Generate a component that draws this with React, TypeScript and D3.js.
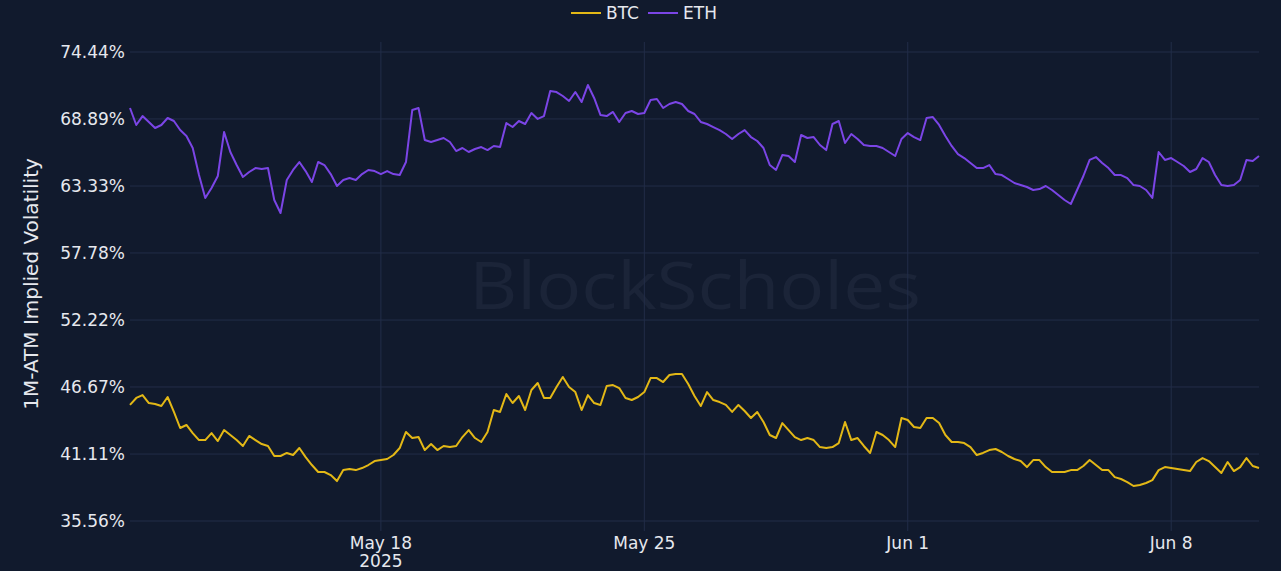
import React from "react";
import * as d3 from "d3";

const START = new Date(2025, 4, 11, 8, 0);
const STEP_HOURS = 4;

const ethValues = [
  69.80, 68.39, 69.13, 68.64, 68.14, 68.39, 68.97, 68.72, 67.97, 67.48,
  66.48, 64.24, 62.34, 63.16, 64.16, 67.81, 66.15, 65.07, 64.08, 64.49,
  64.82, 64.74, 64.82, 62.17, 61.09, 63.83, 64.66, 65.32, 64.57, 63.66,
  65.32, 65.07, 64.32, 63.33, 63.83, 63.99, 63.83, 64.32, 64.66, 64.57,
  64.32, 64.57, 64.32, 64.24, 65.32, 69.63, 69.80, 67.14, 66.98, 67.14,
  67.31, 66.98, 66.23, 66.48, 66.15, 66.40, 66.56, 66.31, 66.65, 66.56,
  68.55, 68.22, 68.72, 68.47, 69.38, 68.89, 69.13, 71.21, 71.12, 70.79,
  70.38, 71.12, 70.29, 71.70, 70.63, 69.22, 69.13, 69.47, 68.64, 69.38,
  69.55, 69.30, 69.38, 70.46, 70.54, 69.80, 70.13, 70.29, 70.13, 69.55,
  69.30, 68.64, 68.47, 68.22, 67.97, 67.64, 67.23, 67.64, 67.97, 67.39,
  67.06, 66.48, 65.07, 64.66, 65.90, 65.82, 65.32, 67.56, 67.31, 67.39,
  66.73, 66.31, 68.47, 68.72, 66.90, 67.64, 67.23, 66.73, 66.65, 66.65,
  66.48, 66.15, 65.82, 67.23, 67.72, 67.39, 67.14, 68.97, 69.05, 68.39,
  67.48, 66.65, 65.98, 65.65, 65.24, 64.82, 64.82, 65.07, 64.32, 64.24,
  63.91, 63.58, 63.41, 63.25, 63.00, 63.08, 63.33, 63.00, 62.58, 62.17,
  61.84, 63.00, 64.16, 65.49, 65.73, 65.24, 64.82, 64.24, 64.24, 63.99,
  63.41, 63.33, 63.00, 62.34, 66.15, 65.49, 65.65, 65.32, 64.99, 64.49,
  64.74, 65.65, 65.32, 64.24, 63.41, 63.33, 63.41, 63.83, 65.49, 65.40,
  65.82,
];

const btcValues = [
  45.18, 45.76, 46.00, 45.34, 45.26, 45.09, 45.84, 44.60, 43.27, 43.52,
  42.85, 42.27, 42.27, 42.85, 42.19, 43.10, 42.69, 42.27, 41.78, 42.61,
  42.27, 41.94, 41.78, 40.95, 40.95, 41.20, 41.03, 41.61, 40.86, 40.20,
  39.62, 39.62, 39.37, 38.87, 39.78, 39.87, 39.78, 39.95, 40.20, 40.53,
  40.61, 40.70, 41.03, 41.61, 42.94, 42.44, 42.52, 41.44, 41.94, 41.44,
  41.78, 41.69, 41.78, 42.52, 43.10, 42.44, 42.11, 42.94, 44.76, 44.60,
  46.09, 45.34, 45.92, 44.76, 46.42, 47.00, 45.76, 45.76, 46.67, 47.50,
  46.67, 46.25, 44.76, 46.00, 45.34, 45.18, 46.75, 46.83, 46.58, 45.76,
  45.59, 45.84, 46.25, 47.41, 47.41, 47.08, 47.66, 47.75, 47.75, 46.92,
  45.92, 45.09, 46.25, 45.59, 45.42, 45.18, 44.60, 45.18, 44.68, 44.10,
  44.60, 43.77, 42.69, 42.44, 43.68, 43.10, 42.52, 42.27, 42.44, 42.27,
  41.69, 41.61, 41.69, 42.02, 43.77, 42.27, 42.44, 41.78, 41.20, 42.94,
  42.69, 42.27, 41.69, 44.10, 43.93, 43.35, 43.27, 44.10, 44.10, 43.68,
  42.69, 42.11, 42.11, 42.02, 41.69, 41.03, 41.20, 41.44, 41.53, 41.28,
  40.95, 40.70, 40.53, 40.03, 40.61, 40.61, 40.03, 39.62, 39.62, 39.62,
  39.78, 39.78, 40.12, 40.61, 40.20, 39.78, 39.78, 39.20, 39.04, 38.79,
  38.46, 38.54, 38.71, 38.95, 39.78, 40.03, 39.95, 39.87, 39.78, 39.70,
  40.45, 40.78, 40.53, 40.03, 39.54, 40.45, 39.70, 40.03, 40.78, 40.12,
  39.95,
];

const yTicks = [35.56, 41.11, 46.67, 52.22, 57.78, 63.33, 68.89, 74.44];
const xTickDates = [
  new Date(2025, 4, 18),
  new Date(2025, 4, 25),
  new Date(2025, 5, 1),
  new Date(2025, 5, 8),
];
const xTickLabels = ["May 18", "May 25", "Jun 1", "Jun 8"];
const seriesNames = ["BTC", "ETH"];
const seriesColors = ["#e3b816", "#7b45e6"];

const W = 1281;
const H = 571;
const M = { left: 130, right: 1259, top: 52, bottom: 521 };
const FONT = "'DejaVu Sans', Verdana, sans-serif";

function toPoints(values: number[]) {
  return values.map((v, i) => ({
    t: new Date(START.getTime() + i * STEP_HOURS * 3600 * 1000),
    v,
  }));
}

export default function App() {
  const endTime = new Date(START.getTime() + (ethValues.length - 1) * STEP_HOURS * 3600 * 1000);
  const x = d3.scaleTime().domain([START, endTime]).range([M.left, M.right]);
  const y = d3.scaleLinear().domain([35.56, 74.44]).range([M.bottom, M.top]);
  const line = d3
    .line<{ t: Date; v: number }>()
    .x((d) => x(d.t))
    .y((d) => y(d.v));

  const series = [toPoints(btcValues), toPoints(ethValues)];
  const gridColor = "#222d48";
  const textColor = "#e6e8ee";

  return (
    <svg
      width={W}
      height={H}
      style={{ position: "absolute", left: 0, top: 0, display: "block" }}
    >
      <rect x={0} y={0} width={W} height={H} fill="#111a2d" />
      <text
        x={695}
        y={309}
        fill="#1b2438"
        fontFamily="'Open Sans', 'Noto Sans', sans-serif"
        fontSize={66}
        textAnchor="middle"
        textLength={452}
        lengthAdjust="spacingAndGlyphs"
      >
        BlockScholes
      </text>
      {yTicks.map((t) => (
        <g key={t}>
          <line x1={M.left} x2={M.right} y1={y(t)} y2={y(t)} stroke={gridColor} strokeWidth={1} />
          <text
            x={125}
            y={y(t)}
            dy="0.35em"
            textAnchor="end"
            fill={textColor}
            fontFamily={FONT}
            fontSize={17}
          >
            {t.toFixed(2)}%
          </text>
        </g>
      ))}
      {xTickDates.map((d, i) => (
        <g key={i}>
          <line x1={x(d)} x2={x(d)} y1={M.top - 10} y2={M.bottom + 10} stroke={gridColor} strokeWidth={1} />
          <text
            x={x(d)}
            y={549}
            textAnchor="middle"
            fill={textColor}
            fontFamily={FONT}
            fontSize={17}
          >
            {xTickLabels[i]}
          </text>
          {i === 0 && (
            <text
              x={x(d)}
              y={567}
              textAnchor="middle"
              fill={textColor}
              fontFamily={FONT}
              fontSize={17}
            >
              2025
            </text>
          )}
        </g>
      ))}
      <text
        transform={`translate(38, ${284}) rotate(-90)`}
        textAnchor="middle"
        fill={textColor}
        fontFamily={FONT}
        fontSize={20}
      >
        1M-ATM Implied Volatility
      </text>
      {series.map((pts, i) => (
        <path
          key={i}
          d={line(pts) || ""}
          fill="none"
          stroke={seriesColors[i]}
          strokeWidth={2}
          strokeLinejoin="round"
        />
      ))}
      <g>
        {seriesNames.map((n, i) => {
          const x0 = 571 + i * 77;
          return (
            <g key={n}>
              <line x1={x0} x2={x0 + 30} y1={13} y2={13} stroke={seriesColors[i]} strokeWidth={2} />
              <text x={x0 + 35} y={13} dy="0.35em" fill={textColor} fontFamily={FONT} fontSize={17}>
                {n}
              </text>
            </g>
          );
        })}
      </g>
    </svg>
  );
}
